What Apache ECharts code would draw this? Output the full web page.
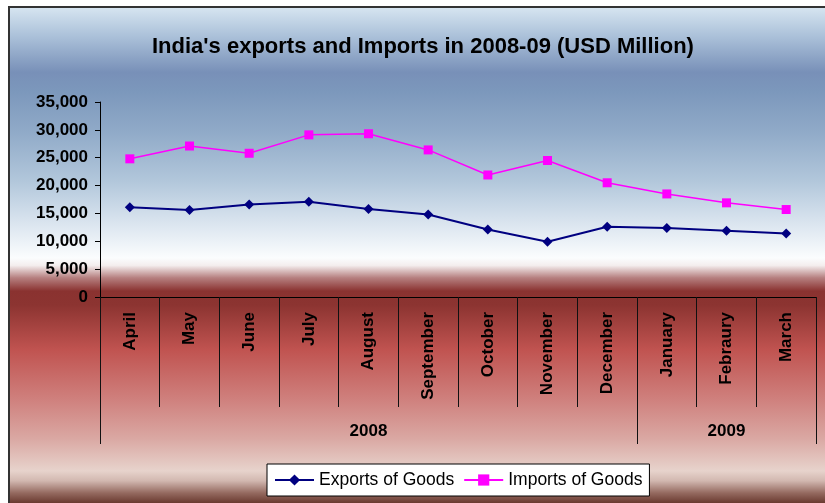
<!DOCTYPE html>
<html>
<head>
<meta charset="utf-8">
<title>India's exports and Imports in 2008-09</title>
<script src="https://cdn.jsdelivr.net/npm/echarts@6/dist/echarts.min.js"></script>
<style>
  html, body { margin: 0; padding: 0; background: #fff; }
  #chart { width: 825px; height: 503px; }
</style>
</head>
<body>
<div id="chart"></div>
<script>
// Monthly merchandise trade, USD million
const months = ['April', 'May', 'June', 'July', 'August', 'September',
                'October', 'November', 'December', 'January', 'Febraury', 'March'];
const exportsGoods = [16100, 15600, 16600, 17100, 15800, 14800, 12100, 9900, 12600, 12400, 11900, 11400];
const importsGoods = [24800, 27100, 25800, 29100, 29300, 26400, 21900, 24500, 20500, 18500, 16900, 15700];

// Year grouping below the month labels: boundaries (in month slots) and labels
const yearBounds = [0, 9, 12];
const yearNames = ['2008', '2009'];
const yearCenters = [4.5, 10.5];

const yTicks = { min: 0, max: 35000, interval: 5000 };

const FONT = "'Liberation Sans', Arial, sans-serif";

const chart = echarts.init(document.getElementById('chart'), null, { renderer: 'canvas' });

const option = {
  animation: false,
  backgroundColor: '#ffffff',
  textStyle: { fontFamily: FONT },
  graphic: [
    {
      type: 'rect', z: -100, silent: true,
      shape: { x: 10, y: 8, width: 815, height: 495 },
      style: {
        fill: new echarts.graphic.LinearGradient(0, 0, 0, 1, [
          { offset: 0.000, color: '#d5e4f0' },
          { offset: 0.060, color: '#a9bfd8' },
          { offset: 0.130, color: '#7890b8' },
          { offset: 0.170, color: '#7c98bc' },
          { offset: 0.250, color: '#90aac8' },
          { offset: 0.350, color: '#b2c7db' },
          { offset: 0.430, color: '#d8e3ee' },
          { offset: 0.505, color: '#fbfdfe' },
          { offset: 0.520, color: '#f4eeee' },
          { offset: 0.545, color: '#b68080' },
          { offset: 0.572, color: '#8a3230' },
          { offset: 0.600, color: '#8c3431' },
          { offset: 0.690, color: '#c05350' },
          { offset: 0.790, color: '#cf807d' },
          { offset: 0.870, color: '#daa8a3' },
          { offset: 0.935, color: '#e7d3cc' },
          { offset: 0.955, color: '#d2b8b0' },
          { offset: 0.980, color: '#94695f' },
          { offset: 1.000, color: '#6a3a30' }
        ])
      }
    },
    {
      type: 'rect', z: -50, silent: true,
      shape: { x: 8, y: 6, width: 2, height: 497 },
      style: { fill: '#333333' }
    },
    {
      type: 'rect', z: -50, silent: true,
      shape: { x: 8, y: 6, width: 817, height: 2 },
      style: { fill: '#333333' }
    }
  ],
  title: {
    text: "India's exports and Imports in 2008-09 (USD Million)",
    left: 147,
    top: 31,
    textStyle: { fontFamily: FONT, fontSize: 22, fontWeight: 'bold', color: '#000' }
  },
  legend: {
    left: 267,
    top: 464,
    padding: [7, 7],
    itemGap: 9,
    itemWidth: 39,
    itemHeight: 14,
    itemTextGap: 5,
    backgroundColor: '#ffffff',
    borderColor: '#000000',
    borderWidth: 1,
    borderRadius: 0,
    textStyle: { fontFamily: FONT, fontSize: 17.5, color: '#000' },
    data: ['Exports of Goods', 'Imports of Goods']
  },
  grid: { left: 100, right: 9, top: 102, bottom: 206, containLabel: false },
  xAxis: [
    {
      type: 'category',
      data: months,
      boundaryGap: true,
      axisLine: { show: true, lineStyle: { color: '#000', width: 1 } },
      axisTick: { show: true, interval: 0, length: 110, lineStyle: { color: '#111', width: 1 } },
      axisLabel: {
        interval: 0, rotate: 90, margin: 15,
        fontFamily: FONT, fontSize: 17, fontWeight: 'bold', color: '#000'
      },
      splitLine: { show: false }
    },
    {
      type: 'value',
      position: 'bottom',
      min: 0, max: 12,
      axisLine: { show: false },
      axisTick: {
        show: true, length: 147, customValues: yearBounds,
        lineStyle: { color: '#111', width: 1 }
      },
      axisLabel: {
        show: true, margin: 126, customValues: yearCenters,
        formatter: function (v) { return yearNames[yearCenters.indexOf(v)]; },
        fontFamily: FONT, fontSize: 17, fontWeight: 'bold', color: '#000'
      },
      splitLine: { show: false }
    }
  ],
  yAxis: {
    type: 'value',
    min: yTicks.min, max: yTicks.max, interval: yTicks.interval,
    axisLine: { show: true, lineStyle: { color: '#000', width: 1 } },
    axisTick: { show: true, length: 5, lineStyle: { color: '#000' } },
    axisLabel: {
      margin: 12,
      fontFamily: FONT, fontSize: 17, fontWeight: 'bold', color: '#000',
      formatter: function (v) { return v.toLocaleString('en-US'); }
    },
    splitLine: { show: false }
  },
  series: [
    {
      name: 'Exports of Goods',
      type: 'line',
      xAxisIndex: 0,
      data: exportsGoods,
      color: '#000080',
      symbol: 'diamond',
      symbolSize: 10,
      lineStyle: { color: '#000080', width: 2 },
      itemStyle: { color: '#000080' }
    },
    {
      name: 'Imports of Goods',
      type: 'line',
      xAxisIndex: 0,
      data: importsGoods,
      color: '#ff00ff',
      symbol: 'rect',
      symbolSize: 9,
      lineStyle: { color: '#ff00ff', width: 1.5 },
      itemStyle: { color: '#ff00ff' }
    }
  ]
};

chart.setOption(option);
</script>
</body>
</html>
